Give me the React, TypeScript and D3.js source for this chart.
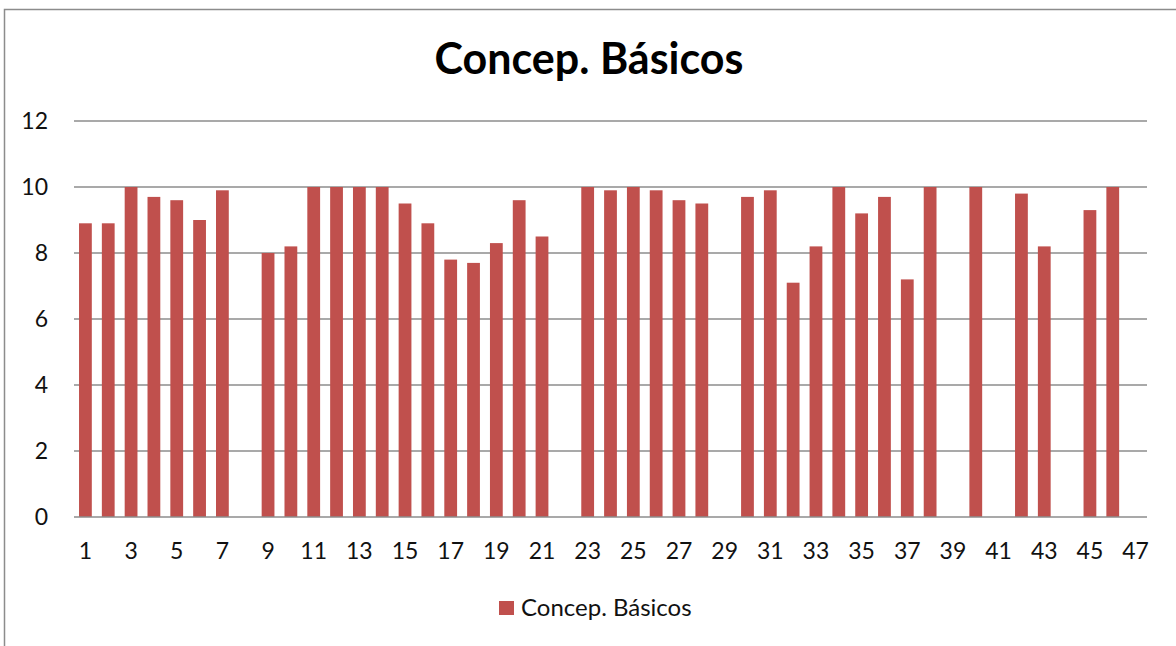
import React, { useEffect, useRef } from "react";
import * as d3 from "d3";

const categories = d3.range(1, 48).map(String);
const values: (number | null)[] = [
  8.9, 8.9, 10, 9.7, 9.6, 9.0, 9.9, null, 8.0, 8.2,
  10, 10, 10, 10, 9.5, 8.9, 7.8, 7.7, 8.3, 9.6,
  8.5, null, 10, 9.9, 10, 9.9, 9.6, 9.5, null, 9.7,
  9.9, 7.1, 8.2, 10, 9.2, 9.7, 7.2, 10, null, 10,
  null, 9.8, 8.2, null, 9.3, 10, null,
];
const yTicks = [0, 2, 4, 6, 8, 10, 12];
const title = "Concep. Básicos";
const seriesName = "Concep. Básicos";

const W = 1176;
const H = 646;
const FONT = "Lato, 'Open Sans', sans-serif";
const BAR = "#C0504D";

function App() {
  const ref = useRef<SVGSVGElement>(null);

  useEffect(() => {
    const svg = d3.select(ref.current);
    svg.selectAll("*").remove();

    const left = 74, right = 1147, top = 121, bottom = 517;

    const x = d3.scaleBand().domain(categories).range([left, right]).paddingInner(0.44).paddingOuter(0.22);
    const y = d3.scaleLinear().domain([0, 12]).range([bottom, top]);

    // chart border
    svg.append("rect").attr("x", 4.5).attr("y", 9.5).attr("width", 1200).attr("height", 700)
      .attr("fill", "white").attr("stroke", "#8c8c8c").attr("stroke-width", 1.5);

    svg.append("text").attr("x", 589).attr("y", 74).attr("text-anchor", "middle")
      .attr("font-family", FONT).attr("font-weight", "bold").attr("font-size", 43)
      .text(title);

    // gridlines
    svg.append("g").selectAll("line").data(yTicks.filter(d => d > 0)).join("line")
      .attr("x1", left).attr("x2", right)
      .attr("y1", d => y(d)).attr("y2", d => y(d))
      .attr("stroke", "#8c8c8c").attr("stroke-width", 1.5);

    svg.append("g").selectAll("text").data(yTicks).join("text")
      .attr("x", 48).attr("y", d => y(d) + 8).attr("text-anchor", "end")
      .attr("font-family", FONT).attr("font-size", 23).attr("fill", "#111")
      .text(d => d);

    svg.append("g").selectAll("rect").data(values.map((v, i) => ({ c: categories[i], v })).filter(d => d.v != null)).join("rect")
      .attr("x", d => x(d.c)!).attr("width", x.bandwidth())
      .attr("y", d => y(d.v as number)).attr("height", d => bottom - y(d.v as number))
      .attr("fill", BAR);

    svg.append("line").attr("x1", left).attr("x2", right).attr("y1", bottom).attr("y2", bottom)
      .attr("stroke", "#8c8c8c").attr("stroke-width", 1.5);

    svg.append("g").selectAll("text").data(categories.filter((_, i) => i % 2 === 0)).join("text")
      .attr("x", d => x(d)! + x.bandwidth() / 2).attr("y", 559).attr("text-anchor", "middle")
      .attr("font-family", FONT).attr("font-size", 23).attr("fill", "#111")
      .text(d => d);

    // legend
    svg.append("rect").attr("x", 499).attr("y", 601).attr("width", 15).attr("height", 14).attr("fill", BAR);
    svg.append("text").attr("x", 521).attr("y", 616)
      .attr("font-family", FONT).attr("font-size", 24).attr("fill", "#111")
      .text(seriesName);
  }, []);

  return (
    <svg ref={ref} width={W} height={H} style={{ position: "absolute", left: 0, top: 0, background: "white" }} />
  );
}

export default App;
